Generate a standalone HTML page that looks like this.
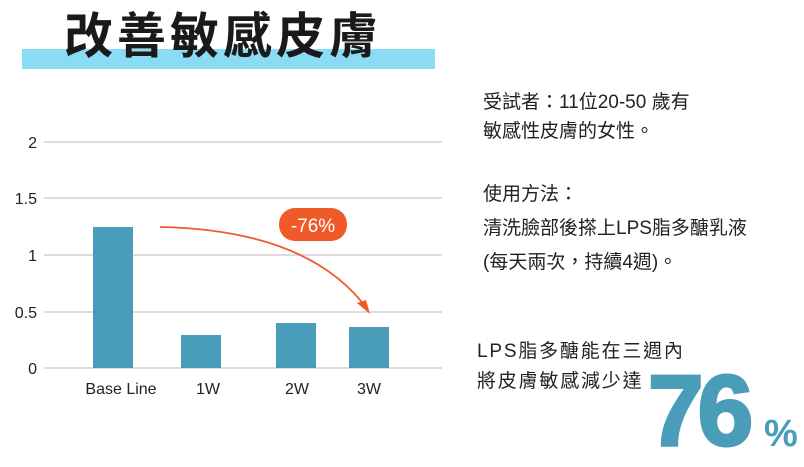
<!DOCTYPE html>
<html><head><meta charset="utf-8"><style>
body{margin:0;width:804px;height:465px;background:#fff;position:relative;overflow:hidden;font-family:"Liberation Sans","Noto Sans CJK TC",sans-serif;color:#222}
.a{position:absolute;white-space:nowrap}
.t{font-size:19px;line-height:20px}
.u{font-size:19px;line-height:20px;letter-spacing:1.8px}
</style></head><body>
<div class="a" style="left:22px;top:49px;width:413px;height:20px;background:#8adcf4"></div>
<div class="a" style="left:64px;top:5px;font-size:49px;font-weight:bold;line-height:64px;letter-spacing:4px;color:#1a1a1a">改善敏感皮膚</div>
<svg class="a" style="left:0;top:0" width="804" height="465">
<g stroke="#c8c8c8" stroke-width="1.2">
<line x1="44" y1="142" x2="442" y2="142"/><line x1="44" y1="198" x2="442" y2="198"/>
<line x1="44" y1="255" x2="442" y2="255"/><line x1="44" y1="312" x2="442" y2="312"/>
<line x1="44" y1="368" x2="442" y2="368"/></g>
<g font-size="16" fill="#222" font-family="Liberation Sans,sans-serif" text-anchor="end">
<text x="37" y="148">2</text><text x="37" y="204">1.5</text><text x="37" y="261">1</text><text x="37" y="318">0.5</text><text x="37" y="374">0</text></g>
<g fill="#4a9db8">
<rect x="93" y="227" width="40" height="141"/><rect x="181" y="335" width="40" height="33"/>
<rect x="276" y="323" width="40" height="45"/><rect x="349" y="327" width="40" height="41"/></g>
<g font-size="16" fill="#222" font-family="Liberation Sans,sans-serif" text-anchor="middle">
<text x="121" y="394">Base Line</text><text x="208" y="394">1W</text><text x="297" y="394">2W</text><text x="369" y="394">3W</text></g>
<path d="M160 227 Q310 230 368 310" fill="none" stroke="#f05a28" stroke-width="1.8"/>
<path d="M370 314 L357 303 L366 300 Z" fill="#f05a28"/>
<rect x="279" y="208" width="68" height="33" rx="16" fill="#f05a28"/>
<text x="313" y="232" font-size="19" fill="#fff" text-anchor="middle" font-family="Liberation Sans,sans-serif">-76%</text>
</svg>
<div class="a t" style="left:483px;top:93px">受試者：11位20-50 歲有</div>
<div class="a t" style="left:483px;top:122px">敏感性皮膚的女性。</div>
<div class="a t" style="left:483px;top:185px">使用方法：</div>
<div class="a t" style="left:483px;top:219px">清洗臉部後搽上LPS脂多醣乳液</div>
<div class="a t" style="left:483px;top:253px">(每天兩次，持續4週)。</div>
<div class="a u" style="left:477px;top:342px">LPS脂多醣能在三週內</div>
<div class="a u" style="left:477px;top:372px">將皮膚敏感減少達</div>
<div class="a" style="left:648px;top:361px;font-size:100px;font-weight:bold;line-height:100px;color:#4a9db8;letter-spacing:-6px;-webkit-text-stroke:3px #4a9db8">76</div>
<div class="a" style="left:764px;top:414px;font-size:38px;font-weight:bold;line-height:40px;color:#4a9db8">%</div>
</body></html>
